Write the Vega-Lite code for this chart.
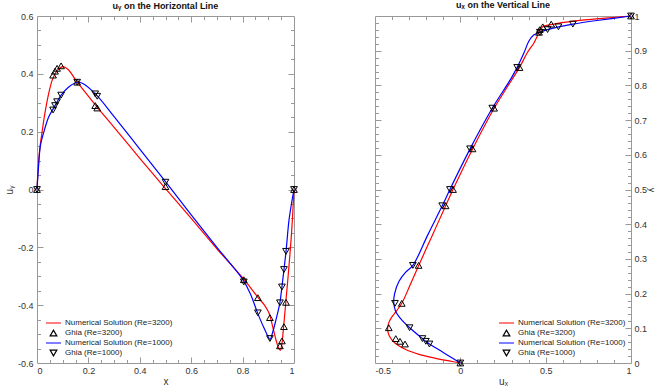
{
  "$schema": "https://vega.github.io/schema/vega-lite/v6.json",
  "padding": {"left": 3, "top": 0, "right": 0, "bottom": 0},
  "spacing": 74,
  "config": {
    "font": "Liberation Sans",
    "view": {"stroke": "#999", "strokeWidth": 1},
    "title": {"fontSize": 9, "fontWeight": "bold", "offset": 1, "color": "#111"},
    "axis": {"labelFontSize": 9, "labelColor": "#333", "titleFontSize": 10, "titleFontWeight": "normal", "titleColor": "#333", "grid": false, "tickColor": "#999", "tickWidth": 1},
    "legend": {"labelFontSize": 8, "labelColor": "#222", "padding": 0, "rowPadding": 0, "clipHeight": 10, "symbolSize": 100, "symbolOffset": 3, "labelOffset": 3, "symbolStrokeWidth": 1.2}
  },
  "resolve": {"scale": {"color": "independent", "shape": "independent"}},
  "datasets": {
    "left": [
      {"x": 0, "y": 0, "k": "n", "s": "Numerical Solution (Re=3200)"},
      {"x": 0.005, "y": 0.08, "k": "n", "s": "Numerical Solution (Re=3200)"},
      {"x": 0.012, "y": 0.15, "k": "n", "s": "Numerical Solution (Re=3200)"},
      {"x": 0.02, "y": 0.2, "k": "n", "s": "Numerical Solution (Re=3200)"},
      {"x": 0.03, "y": 0.26, "k": "n", "s": "Numerical Solution (Re=3200)"},
      {"x": 0.045, "y": 0.33, "k": "n", "s": "Numerical Solution (Re=3200)"},
      {"x": 0.06, "y": 0.38, "k": "n", "s": "Numerical Solution (Re=3200)"},
      {"x": 0.08, "y": 0.413, "k": "n", "s": "Numerical Solution (Re=3200)"},
      {"x": 0.1, "y": 0.425, "k": "n", "s": "Numerical Solution (Re=3200)"},
      {"x": 0.12, "y": 0.416, "k": "n", "s": "Numerical Solution (Re=3200)"},
      {"x": 0.156, "y": 0.372, "k": "n", "s": "Numerical Solution (Re=3200)"},
      {"x": 0.234, "y": 0.285, "k": "n", "s": "Numerical Solution (Re=3200)"},
      {"x": 0.3, "y": 0.215, "k": "n", "s": "Numerical Solution (Re=3200)"},
      {"x": 0.4, "y": 0.108, "k": "n", "s": "Numerical Solution (Re=3200)"},
      {"x": 0.5, "y": 0.003, "k": "n", "s": "Numerical Solution (Re=3200)"},
      {"x": 0.6, "y": -0.1, "k": "n", "s": "Numerical Solution (Re=3200)"},
      {"x": 0.7, "y": -0.205, "k": "n", "s": "Numerical Solution (Re=3200)"},
      {"x": 0.8, "y": -0.305, "k": "n", "s": "Numerical Solution (Re=3200)"},
      {"x": 0.857, "y": -0.37, "k": "n", "s": "Numerical Solution (Re=3200)"},
      {"x": 0.885, "y": -0.4, "k": "n", "s": "Numerical Solution (Re=3200)"},
      {"x": 0.903, "y": -0.428, "k": "n", "s": "Numerical Solution (Re=3200)"},
      {"x": 0.918, "y": -0.478, "k": "n", "s": "Numerical Solution (Re=3200)"},
      {"x": 0.931, "y": -0.524, "k": "n", "s": "Numerical Solution (Re=3200)"},
      {"x": 0.941, "y": -0.55, "k": "n", "s": "Numerical Solution (Re=3200)"},
      {"x": 0.947, "y": -0.556, "k": "n", "s": "Numerical Solution (Re=3200)"},
      {"x": 0.952, "y": -0.54, "k": "n", "s": "Numerical Solution (Re=3200)"},
      {"x": 0.958, "y": -0.49, "k": "n", "s": "Numerical Solution (Re=3200)"},
      {"x": 0.968, "y": -0.391, "k": "n", "s": "Numerical Solution (Re=3200)"},
      {"x": 0.981, "y": -0.259, "k": "n", "s": "Numerical Solution (Re=3200)"},
      {"x": 0.991, "y": -0.143, "k": "n", "s": "Numerical Solution (Re=3200)"},
      {"x": 1, "y": 0, "k": "n", "s": "Numerical Solution (Re=3200)"},

      {"x": 0, "y": 0, "k": "n", "s": "Numerical Solution (Re=1000)"},
      {"x": 0.006, "y": 0.08, "k": "n", "s": "Numerical Solution (Re=1000)"},
      {"x": 0.013, "y": 0.15, "k": "n", "s": "Numerical Solution (Re=1000)"},
      {"x": 0.027, "y": 0.2, "k": "n", "s": "Numerical Solution (Re=1000)"},
      {"x": 0.045, "y": 0.25, "k": "n", "s": "Numerical Solution (Re=1000)"},
      {"x": 0.0625, "y": 0.278, "k": "n", "s": "Numerical Solution (Re=1000)"},
      {"x": 0.078, "y": 0.303, "k": "n", "s": "Numerical Solution (Re=1000)"},
      {"x": 0.094, "y": 0.326, "k": "n", "s": "Numerical Solution (Re=1000)"},
      {"x": 0.12, "y": 0.352, "k": "n", "s": "Numerical Solution (Re=1000)"},
      {"x": 0.156, "y": 0.371, "k": "n", "s": "Numerical Solution (Re=1000)"},
      {"x": 0.18, "y": 0.366, "k": "n", "s": "Numerical Solution (Re=1000)"},
      {"x": 0.23, "y": 0.328, "k": "n", "s": "Numerical Solution (Re=1000)"},
      {"x": 0.3, "y": 0.252, "k": "n", "s": "Numerical Solution (Re=1000)"},
      {"x": 0.4, "y": 0.14, "k": "n", "s": "Numerical Solution (Re=1000)"},
      {"x": 0.5, "y": 0.027, "k": "n", "s": "Numerical Solution (Re=1000)"},
      {"x": 0.6, "y": -0.088, "k": "n", "s": "Numerical Solution (Re=1000)"},
      {"x": 0.7, "y": -0.2, "k": "n", "s": "Numerical Solution (Re=1000)"},
      {"x": 0.8, "y": -0.31, "k": "n", "s": "Numerical Solution (Re=1000)"},
      {"x": 0.831, "y": -0.362, "k": "n", "s": "Numerical Solution (Re=1000)"},
      {"x": 0.857, "y": -0.424, "k": "n", "s": "Numerical Solution (Re=1000)"},
      {"x": 0.883, "y": -0.478, "k": "n", "s": "Numerical Solution (Re=1000)"},
      {"x": 0.907, "y": -0.518, "k": "n", "s": "Numerical Solution (Re=1000)"},
      {"x": 0.915, "y": -0.5, "k": "n", "s": "Numerical Solution (Re=1000)"},
      {"x": 0.93, "y": -0.45, "k": "n", "s": "Numerical Solution (Re=1000)"},
      {"x": 0.945, "y": -0.392, "k": "n", "s": "Numerical Solution (Re=1000)"},
      {"x": 0.953, "y": -0.337, "k": "n", "s": "Numerical Solution (Re=1000)"},
      {"x": 0.961, "y": -0.277, "k": "n", "s": "Numerical Solution (Re=1000)"},
      {"x": 0.969, "y": -0.214, "k": "n", "s": "Numerical Solution (Re=1000)"},
      {"x": 0.98, "y": -0.11, "k": "n", "s": "Numerical Solution (Re=1000)"},
      {"x": 0.99, "y": -0.05, "k": "n", "s": "Numerical Solution (Re=1000)"},
      {"x": 1, "y": 0, "k": "n", "s": "Numerical Solution (Re=1000)"},

      {"x": 1.0, "y": 0, "k": "g", "s": "Ghia (Re=3200)"},
      {"x": 0.9688, "y": -0.39017, "k": "g", "s": "Ghia (Re=3200)"},
      {"x": 0.9609, "y": -0.47425, "k": "g", "s": "Ghia (Re=3200)"},
      {"x": 0.9531, "y": -0.52357, "k": "g", "s": "Ghia (Re=3200)"},
      {"x": 0.9453, "y": -0.54053, "k": "g", "s": "Ghia (Re=3200)"},
      {"x": 0.9063, "y": -0.44307, "k": "g", "s": "Ghia (Re=3200)"},
      {"x": 0.8594, "y": -0.37401, "k": "g", "s": "Ghia (Re=3200)"},
      {"x": 0.8047, "y": -0.31184, "k": "g", "s": "Ghia (Re=3200)"},
      {"x": 0.5, "y": 0.00999, "k": "g", "s": "Ghia (Re=3200)"},
      {"x": 0.2344, "y": 0.28188, "k": "g", "s": "Ghia (Re=3200)"},
      {"x": 0.2266, "y": 0.2903, "k": "g", "s": "Ghia (Re=3200)"},
      {"x": 0.1563, "y": 0.37119, "k": "g", "s": "Ghia (Re=3200)"},
      {"x": 0.0938, "y": 0.42768, "k": "g", "s": "Ghia (Re=3200)"},
      {"x": 0.0781, "y": 0.41906, "k": "g", "s": "Ghia (Re=3200)"},
      {"x": 0.0703, "y": 0.40917, "k": "g", "s": "Ghia (Re=3200)"},
      {"x": 0.0625, "y": 0.3956, "k": "g", "s": "Ghia (Re=3200)"},
      {"x": 0, "y": 0, "k": "g", "s": "Ghia (Re=3200)"},

      {"x": 1.0, "y": 0, "k": "g", "s": "Ghia (Re=1000)"},
      {"x": 0.9688, "y": -0.21388, "k": "g", "s": "Ghia (Re=1000)"},
      {"x": 0.9609, "y": -0.27669, "k": "g", "s": "Ghia (Re=1000)"},
      {"x": 0.9531, "y": -0.33714, "k": "g", "s": "Ghia (Re=1000)"},
      {"x": 0.9453, "y": -0.39188, "k": "g", "s": "Ghia (Re=1000)"},
      {"x": 0.9063, "y": -0.5155, "k": "g", "s": "Ghia (Re=1000)"},
      {"x": 0.8594, "y": -0.42665, "k": "g", "s": "Ghia (Re=1000)"},
      {"x": 0.8047, "y": -0.31966, "k": "g", "s": "Ghia (Re=1000)"},
      {"x": 0.5, "y": 0.02526, "k": "g", "s": "Ghia (Re=1000)"},
      {"x": 0.2344, "y": 0.32235, "k": "g", "s": "Ghia (Re=1000)"},
      {"x": 0.2266, "y": 0.33075, "k": "g", "s": "Ghia (Re=1000)"},
      {"x": 0.1563, "y": 0.37095, "k": "g", "s": "Ghia (Re=1000)"},
      {"x": 0.0938, "y": 0.32627, "k": "g", "s": "Ghia (Re=1000)"},
      {"x": 0.0781, "y": 0.30353, "k": "g", "s": "Ghia (Re=1000)"},
      {"x": 0.0703, "y": 0.29012, "k": "g", "s": "Ghia (Re=1000)"},
      {"x": 0.0625, "y": 0.27485, "k": "g", "s": "Ghia (Re=1000)"},
      {"x": 0, "y": 0, "k": "g", "s": "Ghia (Re=1000)"}
    ],
    "right": [
      {"x": 0, "y": 0, "k": "n", "s": "Numerical Solution (Re=3200)"},
      {"x": -0.066, "y": 0.006, "k": "n", "s": "Numerical Solution (Re=3200)"},
      {"x": -0.144, "y": 0.0135, "k": "n", "s": "Numerical Solution (Re=3200)"},
      {"x": -0.242, "y": 0.025, "k": "n", "s": "Numerical Solution (Re=3200)"},
      {"x": -0.32, "y": 0.039, "k": "n", "s": "Numerical Solution (Re=3200)"},
      {"x": -0.385, "y": 0.0585, "k": "n", "s": "Numerical Solution (Re=3200)"},
      {"x": -0.416, "y": 0.078, "k": "n", "s": "Numerical Solution (Re=3200)"},
      {"x": -0.426, "y": 0.097, "k": "n", "s": "Numerical Solution (Re=3200)"},
      {"x": -0.42, "y": 0.115, "k": "n", "s": "Numerical Solution (Re=3200)"},
      {"x": -0.402, "y": 0.132, "k": "n", "s": "Numerical Solution (Re=3200)"},
      {"x": -0.374, "y": 0.15, "k": "n", "s": "Numerical Solution (Re=3200)"},
      {"x": -0.343, "y": 0.172, "k": "n", "s": "Numerical Solution (Re=3200)"},
      {"x": -0.293, "y": 0.226, "k": "n", "s": "Numerical Solution (Re=3200)"},
      {"x": -0.244, "y": 0.281, "k": "n", "s": "Numerical Solution (Re=3200)"},
      {"x": -0.165, "y": 0.367, "k": "n", "s": "Numerical Solution (Re=3200)"},
      {"x": -0.086, "y": 0.453, "k": "n", "s": "Numerical Solution (Re=3200)"},
      {"x": -0.043, "y": 0.5, "k": "n", "s": "Numerical Solution (Re=3200)"},
      {"x": 0.072, "y": 0.617, "k": "n", "s": "Numerical Solution (Re=3200)"},
      {"x": 0.198, "y": 0.734, "k": "n", "s": "Numerical Solution (Re=3200)"},
      {"x": 0.3, "y": 0.815, "k": "n", "s": "Numerical Solution (Re=3200)"},
      {"x": 0.347, "y": 0.852, "k": "n", "s": "Numerical Solution (Re=3200)"},
      {"x": 0.392, "y": 0.894, "k": "n", "s": "Numerical Solution (Re=3200)"},
      {"x": 0.432, "y": 0.923, "k": "n", "s": "Numerical Solution (Re=3200)"},
      {"x": 0.451, "y": 0.942, "k": "n", "s": "Numerical Solution (Re=3200)"},
      {"x": 0.462, "y": 0.955, "k": "n", "s": "Numerical Solution (Re=3200)"},
      {"x": 0.48, "y": 0.968, "k": "n", "s": "Numerical Solution (Re=3200)"},
      {"x": 0.539, "y": 0.976, "k": "n", "s": "Numerical Solution (Re=3200)"},
      {"x": 0.676, "y": 0.986, "k": "n", "s": "Numerical Solution (Re=3200)"},
      {"x": 0.85, "y": 0.994, "k": "n", "s": "Numerical Solution (Re=3200)"},
      {"x": 1, "y": 1, "k": "n", "s": "Numerical Solution (Re=3200)"},

      {"x": 0, "y": 0, "k": "n", "s": "Numerical Solution (Re=1000)"},
      {"x": -0.05, "y": 0.015, "k": "n", "s": "Numerical Solution (Re=1000)"},
      {"x": -0.115, "y": 0.035, "k": "n", "s": "Numerical Solution (Re=1000)"},
      {"x": -0.181, "y": 0.0547, "k": "n", "s": "Numerical Solution (Re=1000)"},
      {"x": -0.202, "y": 0.0625, "k": "n", "s": "Numerical Solution (Re=1000)"},
      {"x": -0.222, "y": 0.0703, "k": "n", "s": "Numerical Solution (Re=1000)"},
      {"x": -0.297, "y": 0.1016, "k": "n", "s": "Numerical Solution (Re=1000)"},
      {"x": -0.35, "y": 0.128, "k": "n", "s": "Numerical Solution (Re=1000)"},
      {"x": -0.38, "y": 0.15, "k": "n", "s": "Numerical Solution (Re=1000)"},
      {"x": -0.39, "y": 0.175, "k": "n", "s": "Numerical Solution (Re=1000)"},
      {"x": -0.385, "y": 0.2, "k": "n", "s": "Numerical Solution (Re=1000)"},
      {"x": -0.36, "y": 0.235, "k": "n", "s": "Numerical Solution (Re=1000)"},
      {"x": -0.32, "y": 0.262, "k": "n", "s": "Numerical Solution (Re=1000)"},
      {"x": -0.278, "y": 0.2813, "k": "n", "s": "Numerical Solution (Re=1000)"},
      {"x": -0.19, "y": 0.37, "k": "n", "s": "Numerical Solution (Re=1000)"},
      {"x": -0.106, "y": 0.453, "k": "n", "s": "Numerical Solution (Re=1000)"},
      {"x": -0.061, "y": 0.5, "k": "n", "s": "Numerical Solution (Re=1000)"},
      {"x": 0.057, "y": 0.617, "k": "n", "s": "Numerical Solution (Re=1000)"},
      {"x": 0.187, "y": 0.734, "k": "n", "s": "Numerical Solution (Re=1000)"},
      {"x": 0.295, "y": 0.818, "k": "n", "s": "Numerical Solution (Re=1000)"},
      {"x": 0.333, "y": 0.852, "k": "n", "s": "Numerical Solution (Re=1000)"},
      {"x": 0.373, "y": 0.894, "k": "n", "s": "Numerical Solution (Re=1000)"},
      {"x": 0.402, "y": 0.928, "k": "n", "s": "Numerical Solution (Re=1000)"},
      {"x": 0.43, "y": 0.945, "k": "n", "s": "Numerical Solution (Re=1000)"},
      {"x": 0.466, "y": 0.9531, "k": "n", "s": "Numerical Solution (Re=1000)"},
      {"x": 0.511, "y": 0.9609, "k": "n", "s": "Numerical Solution (Re=1000)"},
      {"x": 0.575, "y": 0.9688, "k": "n", "s": "Numerical Solution (Re=1000)"},
      {"x": 0.659, "y": 0.9766, "k": "n", "s": "Numerical Solution (Re=1000)"},
      {"x": 0.8, "y": 0.987, "k": "n", "s": "Numerical Solution (Re=1000)"},
      {"x": 1, "y": 1, "k": "n", "s": "Numerical Solution (Re=1000)"},

      {"y": 1.0, "x": 1, "k": "g", "s": "Ghia (Re=3200)"},
      {"y": 0.9766, "x": 0.53236, "k": "g", "s": "Ghia (Re=3200)"},
      {"y": 0.9688, "x": 0.48296, "k": "g", "s": "Ghia (Re=3200)"},
      {"y": 0.9609, "x": 0.46547, "k": "g", "s": "Ghia (Re=3200)"},
      {"y": 0.9531, "x": 0.46101, "k": "g", "s": "Ghia (Re=3200)"},
      {"y": 0.8516, "x": 0.34682, "k": "g", "s": "Ghia (Re=3200)"},
      {"y": 0.7344, "x": 0.19791, "k": "g", "s": "Ghia (Re=3200)"},
      {"y": 0.6172, "x": 0.07156, "k": "g", "s": "Ghia (Re=3200)"},
      {"y": 0.5, "x": -0.04272, "k": "g", "s": "Ghia (Re=3200)"},
      {"y": 0.4531, "x": -0.08636, "k": "g", "s": "Ghia (Re=3200)"},
      {"y": 0.2813, "x": -0.24427, "k": "g", "s": "Ghia (Re=3200)"},
      {"y": 0.1719, "x": -0.34323, "k": "g", "s": "Ghia (Re=3200)"},
      {"y": 0.1016, "x": -0.41933, "k": "g", "s": "Ghia (Re=3200)"},
      {"y": 0.0703, "x": -0.37827, "k": "g", "s": "Ghia (Re=3200)"},
      {"y": 0.0625, "x": -0.35344, "k": "g", "s": "Ghia (Re=3200)"},
      {"y": 0.0547, "x": -0.32407, "k": "g", "s": "Ghia (Re=3200)"},
      {"y": 0, "x": 0, "k": "g", "s": "Ghia (Re=3200)"},

      {"y": 1.0, "x": 1, "k": "g", "s": "Ghia (Re=1000)"},
      {"y": 0.9766, "x": 0.65928, "k": "g", "s": "Ghia (Re=1000)"},
      {"y": 0.9688, "x": 0.57492, "k": "g", "s": "Ghia (Re=1000)"},
      {"y": 0.9609, "x": 0.51117, "k": "g", "s": "Ghia (Re=1000)"},
      {"y": 0.9531, "x": 0.46604, "k": "g", "s": "Ghia (Re=1000)"},
      {"y": 0.8516, "x": 0.33304, "k": "g", "s": "Ghia (Re=1000)"},
      {"y": 0.7344, "x": 0.18719, "k": "g", "s": "Ghia (Re=1000)"},
      {"y": 0.6172, "x": 0.05702, "k": "g", "s": "Ghia (Re=1000)"},
      {"y": 0.5, "x": -0.0608, "k": "g", "s": "Ghia (Re=1000)"},
      {"y": 0.4531, "x": -0.10648, "k": "g", "s": "Ghia (Re=1000)"},
      {"y": 0.2813, "x": -0.27805, "k": "g", "s": "Ghia (Re=1000)"},
      {"y": 0.1719, "x": -0.38289, "k": "g", "s": "Ghia (Re=1000)"},
      {"y": 0.1016, "x": -0.2973, "k": "g", "s": "Ghia (Re=1000)"},
      {"y": 0.0703, "x": -0.2222, "k": "g", "s": "Ghia (Re=1000)"},
      {"y": 0.0625, "x": -0.20196, "k": "g", "s": "Ghia (Re=1000)"},
      {"y": 0.0547, "x": -0.18109, "k": "g", "s": "Ghia (Re=1000)"},
      {"y": 0, "x": 0, "k": "g", "s": "Ghia (Re=1000)"}
    ]
  },
  "hconcat": [
    {
      "width": 257,
      "height": 347,
      "title": "uᵧ on the Horizontal Line",
      "data": {"name": "left"},
      "resolve": {"axis": {"x": "independent", "y": "independent"}},
      "layer": [
        {
          "transform": [{"filter": {"field": "k", "equal": "n"}}],
          "mark": {"type": "line", "interpolate": "catmull-rom", "strokeWidth": 1.2},
          "encoding": {
            "x": {"field": "x", "type": "quantitative", "scale": {"domain": [0, 1], "nice": false, "zero": false},
              "axis": {"orient": "bottom", "values": [0, 0.2, 0.4, 0.6, 0.8, 1], "labelExpr": "'' + datum.value", "ticks": false, "domain": false, "labelPadding": 3, "title": "x", "titlePadding": 1}},
            "y": {"field": "y", "type": "quantitative", "scale": {"domain": [-0.6, 0.6], "nice": false, "zero": false},
              "axis": {"orient": "left", "values": [-0.6, -0.4, -0.2, 0, 0.2, 0.4, 0.6], "labelExpr": "'' + datum.value", "ticks": false, "domain": false, "labelPadding": 4, "title": "uᵧ", "titlePadding": 3}},
            "color": {"field": "s", "type": "nominal",
              "scale": {"domain": ["Numerical Solution (Re=3200)", "Ghia (Re=3200)", "Numerical Solution (Re=1000)", "Ghia (Re=1000)"], "range": ["red", "black", "blue", "black"]},
              "legend": {"orient": "bottom-left", "offset": 5, "title": null, "symbolType": "stroke", "clipHeight": 10, "rowPadding": 0,
                "encode": {"symbols": {"update": {
                  "shape": {"signal": "test(/Ghia/, datum.value) ? (test(/3200/, datum.value) ? 'triangle-up' : 'triangle-down') : 'stroke'"},
                  "size": {"signal": "test(/Ghia/, datum.value) ? 45 : 225"},
                  "stroke": {"signal": "test(/Ghia/, datum.value) ? 'black' : (test(/3200/, datum.value) ? 'red' : 'blue')"},
                  "fill": {"value": "transparent"},
                  "strokeWidth": {"value": 1.2}}}}}}
          }
        },
        {
          "transform": [{"filter": {"field": "k", "equal": "g"}}],
          "mark": {"type": "point", "filled": false, "size": 45, "strokeWidth": 1, "opacity": 1},
          "encoding": {
            "x": {"field": "x", "type": "quantitative", "scale": {"domain": [0, 1], "nice": false, "zero": false}, "axis": null},
            "y": {"field": "y", "type": "quantitative", "scale": {"domain": [-0.6, 0.6], "nice": false, "zero": false}, "axis": null},
            "color": {"field": "s", "type": "nominal"},
            "shape": {"field": "s", "type": "nominal", "scale": {"domain": ["Ghia (Re=3200)", "Ghia (Re=1000)"], "range": ["triangle-up", "triangle-down"]}, "legend": null}
          }
        },
        {
          "mark": {"type": "point", "opacity": 0},
          "encoding": {
            "x": {"field": "x", "type": "quantitative", "scale": {"domain": [0, 1], "nice": false, "zero": false},
              "axis": {"orient": "bottom", "values": [0.2, 0.4, 0.6, 0.8], "labels": false, "domain": false, "tickSize": -6, "title": null}},
            "y": {"field": "y", "type": "quantitative", "scale": {"domain": [-0.6, 0.6], "nice": false, "zero": false},
              "axis": {"orient": "left", "values": [-0.4, -0.2, 0, 0.2, 0.4], "labels": false, "domain": false, "tickSize": -6, "title": null}}
          }
        },
        {
          "mark": {"type": "point", "opacity": 0},
          "encoding": {
            "x": {"field": "x", "type": "quantitative", "scale": {"domain": [0, 1], "nice": false, "zero": false},
              "axis": {"orient": "bottom", "values": [0.05, 0.1, 0.15, 0.25, 0.3, 0.35, 0.45, 0.5, 0.55, 0.65, 0.7, 0.75, 0.85, 0.9, 0.95], "labels": false, "domain": false, "tickSize": -3.5, "title": null}},
            "y": {"field": "y", "type": "quantitative", "scale": {"domain": [-0.6, 0.6], "nice": false, "zero": false},
              "axis": {"orient": "left", "values": [-0.55, -0.5, -0.45, -0.35, -0.3, -0.25, -0.15, -0.1, -0.05, 0.05, 0.1, 0.15, 0.25, 0.3, 0.35, 0.45, 0.5, 0.55], "labels": false, "domain": false, "tickSize": -3.5, "title": null}}
          }
        },
        {
          "mark": {"type": "point", "opacity": 0},
          "encoding": {
            "x": {"field": "x", "type": "quantitative", "scale": {"domain": [0, 1], "nice": false, "zero": false},
              "axis": {"orient": "top", "values": [0.2, 0.4, 0.6, 0.8], "labels": false, "domain": false, "tickSize": -6, "title": null}},
            "y": {"field": "y", "type": "quantitative", "scale": {"domain": [-0.6, 0.6], "nice": false, "zero": false},
              "axis": {"orient": "right", "values": [-0.4, -0.2, 0, 0.2, 0.4], "labels": false, "domain": false, "tickSize": -6, "title": null}}
          }
        },
        {
          "mark": {"type": "point", "opacity": 0},
          "encoding": {
            "x": {"field": "x", "type": "quantitative", "scale": {"domain": [0, 1], "nice": false, "zero": false},
              "axis": {"orient": "top", "values": [0.05, 0.1, 0.15, 0.25, 0.3, 0.35, 0.45, 0.5, 0.55, 0.65, 0.7, 0.75, 0.85, 0.9, 0.95], "labels": false, "domain": false, "tickSize": -3.5, "title": null}},
            "y": {"field": "y", "type": "quantitative", "scale": {"domain": [-0.6, 0.6], "nice": false, "zero": false},
              "axis": {"orient": "right", "values": [-0.55, -0.5, -0.45, -0.35, -0.3, -0.25, -0.15, -0.1, -0.05, 0.05, 0.1, 0.15, 0.25, 0.3, 0.35, 0.45, 0.5, 0.55], "labels": false, "domain": false, "tickSize": -3.5, "title": null}}
          }
        }
      ]
    },
    {
      "width": 256,
      "height": 347,
      "title": "uₓ on the Vertical Line",
      "data": {"name": "right"},
      "resolve": {"axis": {"x": "independent", "y": "independent"}},
      "layer": [
        {
          "transform": [{"filter": {"field": "k", "equal": "n"}}],
          "mark": {"type": "line", "interpolate": "catmull-rom", "strokeWidth": 1.2},
          "encoding": {
            "x": {"field": "x", "type": "quantitative", "scale": {"domain": [-0.5, 1], "nice": false, "zero": false},
              "axis": {"orient": "bottom", "values": [-0.5, 0, 0.5, 1], "labelExpr": "'' + datum.value", "ticks": false, "domain": false, "labelPadding": 3, "title": "uₓ", "titlePadding": 1}},
            "y": {"field": "y", "type": "quantitative", "scale": {"domain": [0, 1], "nice": false, "zero": false},
              "axis": {"orient": "right", "values": [0, 0.1, 0.2, 0.3, 0.4, 0.5, 0.6, 0.7, 0.8, 0.9, 1], "labelExpr": "'' + datum.value", "ticks": false, "domain": false, "labelPadding": 3, "title": "y", "titleFontSize": 9, "titlePadding": 0}},
            "order": {"field": "y", "type": "quantitative"},
            "color": {"field": "s", "type": "nominal",
              "scale": {"domain": ["Numerical Solution (Re=3200)", "Ghia (Re=3200)", "Numerical Solution (Re=1000)", "Ghia (Re=1000)"], "range": ["red", "black", "blue", "black"]},
              "legend": {"orient": "bottom-right", "offset": 5, "title": null, "symbolType": "stroke", "clipHeight": 10, "rowPadding": 0,
                "encode": {"symbols": {"update": {
                  "shape": {"signal": "test(/Ghia/, datum.value) ? (test(/3200/, datum.value) ? 'triangle-up' : 'triangle-down') : 'stroke'"},
                  "size": {"signal": "test(/Ghia/, datum.value) ? 45 : 225"},
                  "stroke": {"signal": "test(/Ghia/, datum.value) ? 'black' : (test(/3200/, datum.value) ? 'red' : 'blue')"},
                  "fill": {"value": "transparent"},
                  "strokeWidth": {"value": 1.2}}}}}}
          }
        },
        {
          "transform": [{"filter": {"field": "k", "equal": "g"}}],
          "mark": {"type": "point", "filled": false, "size": 45, "strokeWidth": 1, "opacity": 1},
          "encoding": {
            "x": {"field": "x", "type": "quantitative", "scale": {"domain": [-0.5, 1], "nice": false, "zero": false}, "axis": null},
            "y": {"field": "y", "type": "quantitative", "scale": {"domain": [0, 1], "nice": false, "zero": false}, "axis": null},
            "color": {"field": "s", "type": "nominal"},
            "shape": {"field": "s", "type": "nominal", "scale": {"domain": ["Ghia (Re=3200)", "Ghia (Re=1000)"], "range": ["triangle-up", "triangle-down"]}, "legend": null}
          }
        },
        {
          "mark": {"type": "point", "opacity": 0},
          "encoding": {
            "x": {"field": "x", "type": "quantitative", "scale": {"domain": [-0.5, 1], "nice": false, "zero": false},
              "axis": {"orient": "bottom", "values": [0, 0.5], "labels": false, "domain": false, "tickSize": -6, "title": null}},
            "y": {"field": "y", "type": "quantitative", "scale": {"domain": [0, 1], "nice": false, "zero": false},
              "axis": {"orient": "right", "values": [0.1, 0.2, 0.3, 0.4, 0.5, 0.6, 0.7, 0.8, 0.9], "labels": false, "domain": false, "tickSize": -6, "title": null}}
          }
        },
        {
          "mark": {"type": "point", "opacity": 0},
          "encoding": {
            "x": {"field": "x", "type": "quantitative", "scale": {"domain": [-0.5, 1], "nice": false, "zero": false},
              "axis": {"orient": "bottom", "values": [-0.4, -0.3, -0.2, -0.1, 0.1, 0.2, 0.3, 0.4, 0.6, 0.7, 0.8, 0.9], "labels": false, "domain": false, "tickSize": -3.5, "title": null}},
            "y": {"field": "y", "type": "quantitative", "scale": {"domain": [0, 1], "nice": false, "zero": false},
              "axis": {"orient": "right", "values": [0.02, 0.04, 0.06, 0.08, 0.12, 0.14, 0.16, 0.18, 0.22, 0.24, 0.26, 0.28, 0.32, 0.34, 0.36, 0.38, 0.42, 0.44, 0.46, 0.48, 0.52, 0.54, 0.56, 0.58, 0.62, 0.64, 0.66, 0.68, 0.72, 0.74, 0.76, 0.78, 0.82, 0.84, 0.86, 0.88, 0.92, 0.94, 0.96, 0.98], "labels": false, "domain": false, "tickSize": -3.5, "title": null}}
          }
        },
        {
          "mark": {"type": "point", "opacity": 0},
          "encoding": {
            "x": {"field": "x", "type": "quantitative", "scale": {"domain": [-0.5, 1], "nice": false, "zero": false},
              "axis": {"orient": "top", "values": [0, 0.5], "labels": false, "domain": false, "tickSize": -6, "title": null}},
            "y": {"field": "y", "type": "quantitative", "scale": {"domain": [0, 1], "nice": false, "zero": false},
              "axis": {"orient": "left", "values": [0.1, 0.2, 0.3, 0.4, 0.5, 0.6, 0.7, 0.8, 0.9], "labels": false, "domain": false, "tickSize": -6, "title": null}}
          }
        },
        {
          "mark": {"type": "point", "opacity": 0},
          "encoding": {
            "x": {"field": "x", "type": "quantitative", "scale": {"domain": [-0.5, 1], "nice": false, "zero": false},
              "axis": {"orient": "top", "values": [-0.4, -0.3, -0.2, -0.1, 0.1, 0.2, 0.3, 0.4, 0.6, 0.7, 0.8, 0.9], "labels": false, "domain": false, "tickSize": -3.5, "title": null}},
            "y": {"field": "y", "type": "quantitative", "scale": {"domain": [0, 1], "nice": false, "zero": false},
              "axis": {"orient": "left", "values": [0.02, 0.04, 0.06, 0.08, 0.12, 0.14, 0.16, 0.18, 0.22, 0.24, 0.26, 0.28, 0.32, 0.34, 0.36, 0.38, 0.42, 0.44, 0.46, 0.48, 0.52, 0.54, 0.56, 0.58, 0.62, 0.64, 0.66, 0.68, 0.72, 0.74, 0.76, 0.78, 0.82, 0.84, 0.86, 0.88, 0.92, 0.94, 0.96, 0.98], "labels": false, "domain": false, "tickSize": -3.5, "title": null}}
          }
        }
      ]
    }
  ]
}
